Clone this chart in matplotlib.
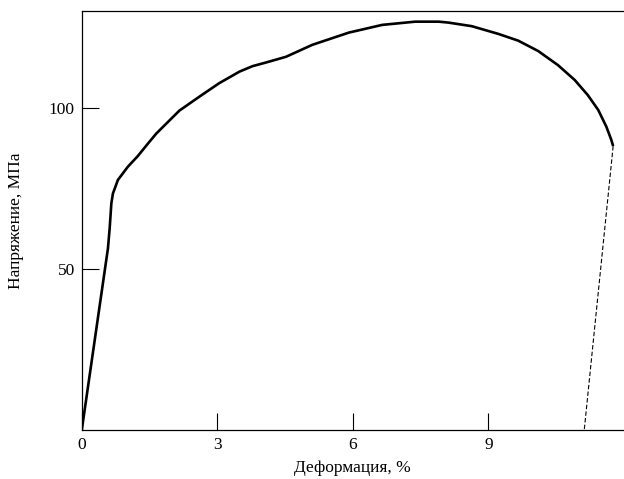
import numpy as np
import matplotlib.pyplot as plt

plt.rcParams['font.family'] = ['Liberation Serif', 'DejaVu Serif']

# stress-strain curve
strain = [0, 0.58, 0.618, 0.655, 0.69, 0.80, 1.02, 1.24, 1.46, 1.65, 2.16,
          2.60, 3.04, 3.49, 3.78, 4.07, 4.52, 5.10, 5.91, 6.65, 7.38, 7.90,
          8.12, 8.63, 9.22, 9.66, 10.10, 10.54, 10.91, 11.20, 11.43, 11.61,
          11.72, 11.76]
stress = [0, 56.4, 62.6, 70.3, 73.4, 77.6, 81.7, 85.0, 88.8, 92.0, 99.1,
          103.4, 107.6, 111.2, 112.9, 114.0, 115.8, 119.5, 123.3, 125.7,
          126.7, 126.7, 126.4, 125.3, 122.9, 120.8, 117.6, 113.2, 108.6,
          103.9, 99.3, 94.1, 90.0, 88.1]

# elastic unloading after fracture
unload_strain = [11.76, 11.12]
unload_stress = [88.1, 0]

xticks = [0, 3, 6, 9]
yticks = [50, 100]


def main():
    fig = plt.figure(figsize=(6.24, 4.79), dpi=100)
    ax = fig.add_axes([0.131, 0.102, 0.869, 0.875])

    ax.plot(strain, stress, color="black", lw=1.9, solid_joinstyle="round",
            solid_capstyle="butt")
    ax.plot(unload_strain, unload_stress, color="black", lw=0.8,
            linestyle=(0, (4, 2)))

    ax.set_xlim(0, 12)
    ax.set_ylim(0, 130)
    ax.set_xticks(xticks)
    ax.set_yticks(yticks)
    ax.tick_params(direction="in", length=12, width=0.8, labelsize=12.5,
                   pad=5)
    ax.spines["right"].set_visible(False)
    for s in ["left", "bottom", "top"]:
        ax.spines[s].set_linewidth(0.9)

    ax.set_xlabel("Деформация, %", fontsize=12.5, labelpad=5)
    ax.set_ylabel("Напряжение, МПа", fontsize=12.5, labelpad=18)

    fig.savefig("out.png", dpi=100)


if __name__ == "__main__":
    main()
